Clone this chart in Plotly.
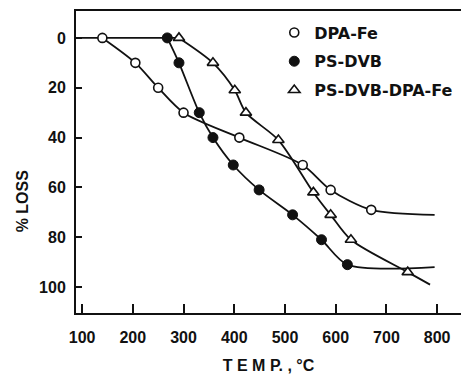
import plotly.graph_objects as go

# Data (temperature in °C, weight loss in %)
baseline_temp = [88, 291]
baseline_loss = [0, 0]

dpa_fe_temp = [140, 205, 250, 300, 410, 535, 590, 670]
dpa_fe_loss = [0, 10, 20, 30, 40, 51, 61, 69]
dpa_fe_line_temp = dpa_fe_temp + [795]
dpa_fe_line_loss = dpa_fe_loss + [71]

ps_dvb_temp = [268, 291, 331, 358, 398, 449, 515, 572, 623]
ps_dvb_loss = [0, 10, 30, 40, 51, 61, 71, 81, 91]
ps_dvb_line_temp = ps_dvb_temp + [795]
ps_dvb_line_loss = ps_dvb_loss + [92]

ps_dvb_dpa_fe_temp = [291, 358, 401, 423, 487, 556, 590, 630, 742]
ps_dvb_dpa_fe_loss = [0, 10, 21, 30, 41, 62, 71, 81, 94]
ps_dvb_dpa_fe_line_temp = ps_dvb_dpa_fe_temp + [786]
ps_dvb_dpa_fe_line_loss = ps_dvb_dpa_fe_loss + [99]

x_ticks = [100, 200, 300, 400, 500, 600, 700, 800]
y_ticks = [0, 20, 40, 60, 80, 100]

FONT = "Liberation Sans, Arial, sans-serif"
LEG_FONT = "DejaVu Sans, sans-serif"
INK = "#111111"

fig = go.Figure()

fig.add_trace(go.Scatter(x=baseline_temp, y=baseline_loss, mode="lines",
                         line=dict(color=INK, width=1.8), showlegend=False,
                         hoverinfo="skip"))

line_style = dict(color=INK, width=1.8, shape="spline", smoothing=0.8)
for lx, ly in [(dpa_fe_line_temp, dpa_fe_line_loss),
               (ps_dvb_line_temp, ps_dvb_line_loss),
               (ps_dvb_dpa_fe_line_temp, ps_dvb_dpa_fe_line_loss)]:
    fig.add_trace(go.Scatter(x=lx, y=ly, mode="lines", line=line_style,
                             showlegend=False, hoverinfo="skip"))

fig.add_trace(go.Scatter(
    x=dpa_fe_temp, y=dpa_fe_loss, mode="markers", name="DPA-Fe", legendgroup="a",
    marker=dict(symbol="circle", size=9, color="white", line=dict(color=INK, width=1.6))))
fig.add_trace(go.Scatter(
    x=ps_dvb_temp, y=ps_dvb_loss, mode="markers", name="PS-DVB", legendgroup="b",
    marker=dict(symbol="circle", size=10, color=INK, line=dict(color=INK, width=1))))
fig.add_trace(go.Scatter(
    x=ps_dvb_dpa_fe_temp, y=ps_dvb_dpa_fe_loss, mode="markers", name="PS-DVB-DPA-Fe",
    legendgroup="c",
    marker=dict(symbol="triangle-up", size=10, color="white", line=dict(color=INK, width=1.6))))

fig.update_layout(
    width=461, height=374,
    margin=dict(l=76, r=0, t=11, b=61),
    paper_bgcolor="white", plot_bgcolor="white",
    font=dict(family=FONT, size=16, color=INK, weight="bold"),
    legend=dict(x=0.515, y=0.985, xanchor="left", yanchor="top",
                bgcolor="rgba(0,0,0,0)", traceorder="grouped", tracegroupgap=5,
                font=dict(size=16, family=LEG_FONT, color=INK, weight="bold")),
    xaxis=dict(range=[88, 847], tickvals=x_ticks, showgrid=False, zeroline=False,
               showline=True, linecolor=INK, linewidth=2, mirror=True,
               ticks="inside", ticklen=9, tickwidth=1.8, tickcolor=INK,
               ticklabelstandoff=9,
               title=dict(text="T E M P. , °C", standoff=16,
                          font=dict(size=16, family=FONT, weight="bold"))),
    yaxis=dict(range=[110.4, -10.8], tickvals=y_ticks, showgrid=False, zeroline=False,
               showline=True, linecolor=INK, linewidth=2,
               ticks="inside", ticklen=6, tickwidth=1.8, tickcolor=INK,
               ticklabelstandoff=5),
    annotations=[dict(text="% LOSS", textangle=-90, xref="paper", yref="paper",
                      x=-0.14, y=0.37, xanchor="center", yanchor="middle",
                      showarrow=False, font=dict(size=16, family=FONT, weight="bold"))],
)

fig.write_html("out.html")
